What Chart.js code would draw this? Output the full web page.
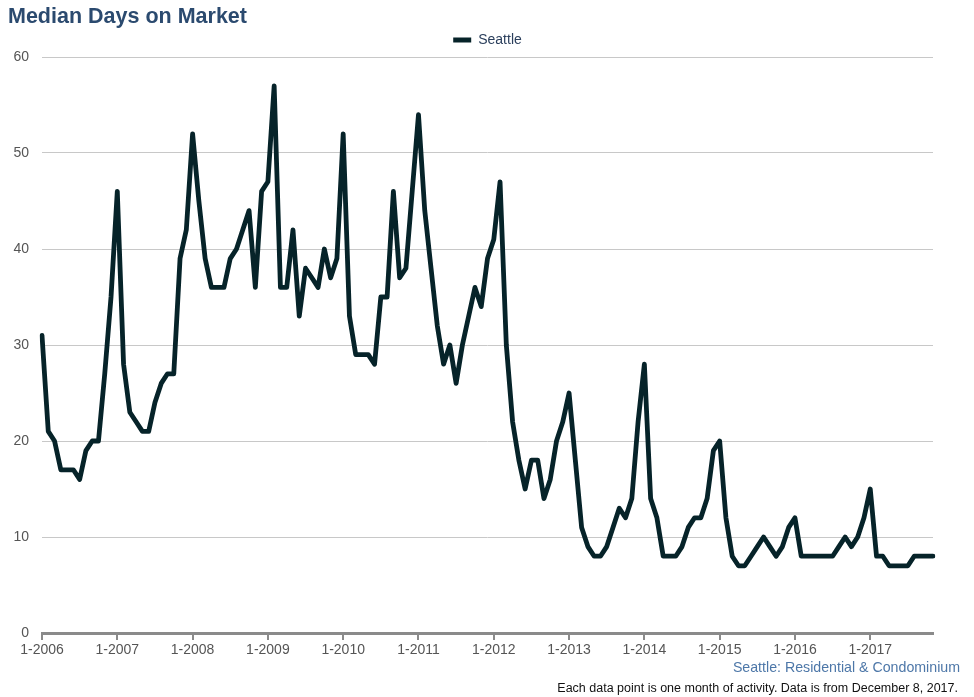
<!DOCTYPE html>
<html>
<head>
<meta charset="utf-8">
<script src="https://cdn.jsdelivr.net/npm/chart.js@4.4.1/dist/chart.umd.min.js"></script>
<style>
    html, body { margin: 0; padding: 0; background: #fff; }
    #wrap { position: relative; width: 974px; height: 697px; font-family: "Liberation Sans", Arial, sans-serif; }
    #chart { position: absolute; left: 0; top: 0; }
    .title { position: absolute; left: 8px; top: 4px; font-size: 21.5px; font-weight: bold; color: #2b4a6f; }
    .src { position: absolute; right: 14px; top: 659px; font-size: 14.2px; color: #4d77a8; }
    .note { position: absolute; right: 16px; top: 681px; font-size: 12.5px; color: #111; }
</style>
</head>
<body>
<div id="wrap">
    <canvas id="chart" width="974" height="697"></canvas>
    <div class="title">Median Days on Market</div>
    <div class="src">Seattle: Residential &amp; Condominium</div>
    <div class="note">Each data point is one month of activity. Data is from December 8, 2017.</div>
</div>
<script>
const seriesName = 'Seattle';
const startYear = 2006;
const yTicks = [0, 10, 20, 30, 40, 50, 60];

// median days on market, one value per month
const y2006 = [31, 21, 20, 17, 17, 17, 16, 19, 20, 20, 27, 35];
const y2007 = [46, 28, 23, 22, 21, 21, 24, 26, 27, 27, 39, 42];
const y2008 = [52, 45, 39, 36, 36, 36, 39, 40, 42, 44, 36, 46];
const y2009 = [47, 57, 36, 36, 42, 33, 38, 37, 36, 40, 37, 39];
const y2010 = [52, 33, 29, 29, 29, 28, 35, 35, 46, 37, 38, 46];
const y2011 = [54, 44, 38, 32, 28, 30, 26, 30, 33, 36, 34, 39];
const y2012 = [41, 47, 30, 22, 18, 15, 18, 18, 14, 16, 20, 22];
const y2013 = [25, 18, 11, 9, 8, 8, 9, 11, 13, 12, 14, 22];
const y2014 = [28, 14, 12, 8, 8, 8, 9, 11, 12, 12, 14, 19];
const y2015 = [20, 12, 8, 7, 7, 8, 9, 10, 9, 8, 9, 11];
const y2016 = [12, 8, 8, 8, 8, 8, 8, 9, 10, 9, 10, 12];
const y2017 = [15, 8, 8, 7, 7, 7, 7, 8, 8, 8, 8];

const values = [].concat(y2006, y2007, y2008, y2009, y2010, y2011,
    y2012, y2013, y2014, y2015, y2016, y2017);

// month labels like "1-2006"
const labels = values.map((_, i) => `${(i % 12) + 1}-${startYear + Math.floor(i / 12)}`);

const lineColor = '#062329';
const axisGray = '#8a8a8a';
const fontFamily = '"Liberation Sans", Arial, sans-serif';

new Chart(document.getElementById('chart'), {
    type: 'line',
    data: {
        labels,
        datasets: [{
            label: seriesName,
            data: values,
            borderColor: lineColor,
            backgroundColor: lineColor,
            borderWidth: 4.8,
            pointRadius: 0,
            tension: 0,
            borderJoinStyle: 'round',
            borderCapStyle: 'round',
        }],
    },
    options: {
        responsive: false,
        animation: false,
        layout: { padding: { top: 23, left: 0, right: 41, bottom: 34 } },
        plugins: {
            legend: {
                position: 'top',
                align: 'center',
                labels: {
                    boxWidth: 18,
                    boxHeight: 5,
                    padding: 10,
                    color: '#2b3f5c',
                    font: { family: fontFamily, size: 14 },
                    generateLabels(chart) {
                        const items = Chart.defaults.plugins.legend.labels.generateLabels(chart);
                        items.forEach((it) => { it.lineWidth = 0; it.lineCap = 'butt'; it.fillStyle = lineColor; });
                        return items;
                    },
                },
            },
            tooltip: { enabled: false },
        },
        scales: {
            x: {
                type: 'category',
                offset: false,
                afterFit(scale) { scale.height = 30; },
                border: { display: true, color: axisGray, width: 3 },
                grid: {
                    drawOnChartArea: false,
                    drawTicks: true,
                    tickLength: 7,
                    lineWidth: 2,
                    color: (ctx) => (ctx.index % 12 === 0 && ctx.index < values.length - 1 ? axisGray : 'rgba(0,0,0,0)'),
                },
                ticks: {
                    autoSkip: false,
                    maxRotation: 0,
                    minRotation: 0,
                    padding: 2,
                    color: '#555',
                    font: { family: fontFamily, size: 14 },
                    callback(v, i) { return i % 12 === 0 ? labels[i] : ''; },
                },
            },
            y: {
                min: yTicks[0],
                max: yTicks[yTicks.length - 1],
                afterFit(scale) { scale.width = 42; },
                afterBuildTicks(scale) { scale.ticks = yTicks.map((v) => ({ value: v })); },
                border: { display: false },
                grid: { color: '#c8c8c8', lineWidth: 1, drawTicks: false },
                ticks: {
                    padding: 13,
                    color: '#555',
                    font: { family: fontFamily, size: 14 },
                },
            },
        },
    },
    plugins: [{
        // centre the legend on the whole canvas, not just the padded box
        id: 'legendShift',
        afterLayout(chart) {
            const lg = chart.legend;
            if (!lg) return;
            lg.left += 21;
            lg.right += 21;
        },
    }],
});
</script>
</body>
</html>
